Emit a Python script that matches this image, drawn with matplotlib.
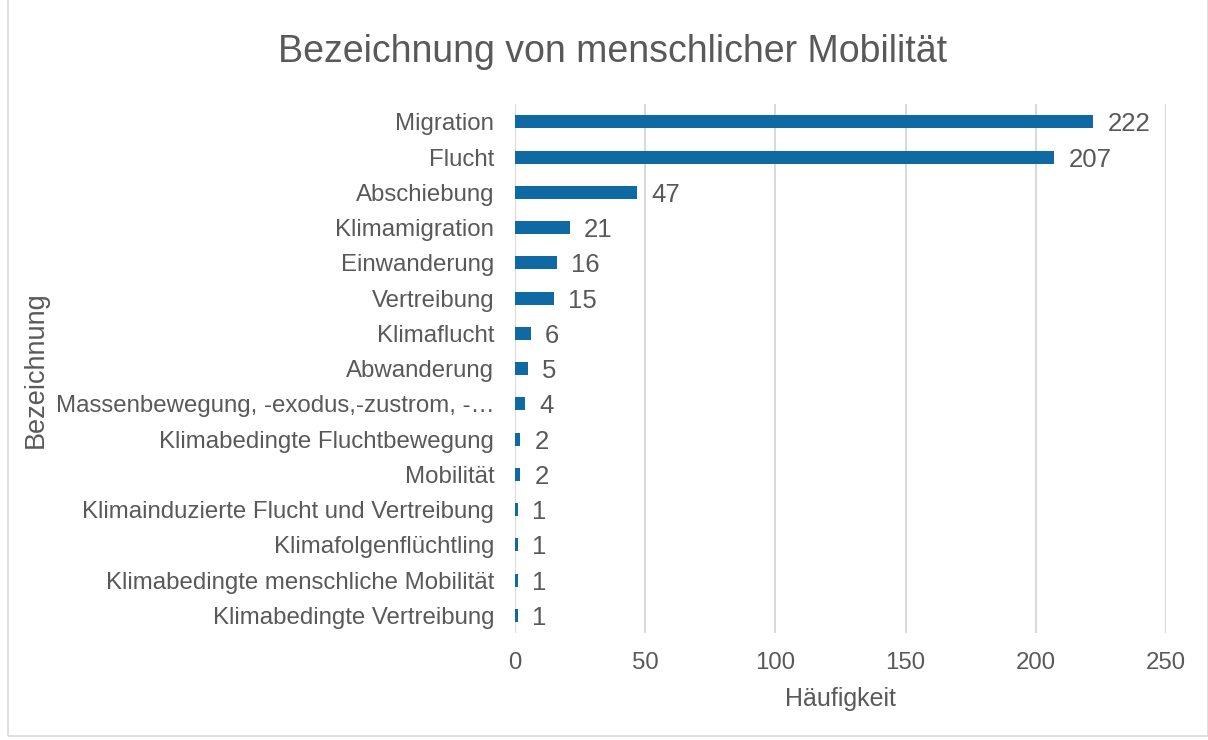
import matplotlib.pyplot as plt
from matplotlib.patches import Rectangle

# === DATA ===
categories = [
    'Migration', 'Flucht', 'Abschiebung', 'Klimamigration', 'Einwanderung',
    'Vertreibung', 'Klimaflucht', 'Abwanderung',
    'Massenbewegung, -exodus,-zustrom, -…', 'Klimabedingte Fluchtbewegung',
    'Mobilität', 'Klimainduzierte Flucht und Vertreibung',
    'Klimafolgenflüchtling', 'Klimabedingte menschliche Mobilität',
    'Klimabedingte Vertreibung',
]
counts = [222, 207, 47, 21, 16, 15, 6, 5, 4, 2, 2, 1, 1, 1, 1]
x_ticks = [0, 50, 100, 150, 200, 250]

# === STYLE ===
BLUE = '#0F6AA4'
TEXT = '#595959'
GRID = '#D9D9D9'
plt.rcParams['font.family'] = ['Liberation Sans', 'DejaVu Sans']

fig = plt.figure(figsize=(12.08, 7.4), dpi=100)
ax = fig.add_axes([0.4263, 0.1446, 0.5389, 0.7146])

y_pos = list(range(len(categories)))
ax.barh(y_pos, counts, height=0.37, color=BLUE)
ax.set_ylim(len(categories) - 0.5, -0.5)
ax.set_xlim(0, 250)

for y, v in zip(y_pos, counts):
    ax.text(v + 5.5, y, str(v), va='center_baseline', ha='left',
            fontsize=18.5, color=TEXT)

ax.set_yticks(y_pos)
ax.set_yticklabels(categories, fontsize=17.3, color=TEXT)
ax.set_xticks(x_ticks)
ax.set_xticklabels([str(t) for t in x_ticks], fontsize=17.3, color=TEXT)
ax.tick_params(axis='both', length=0)
ax.tick_params(axis='y', pad=15)
ax.tick_params(axis='x', pad=14)

for s in ax.spines.values():
    s.set_visible(False)
ax.xaxis.grid(True, color=GRID, linewidth=1.5)
ax.set_axisbelow(True)

ax.set_xlabel('Häufigkeit', fontsize=18, color=TEXT, labelpad=9)
fig.text(0.03, 0.5, 'Bezeichnung', rotation=90, ha='center', va='center',
         fontsize=19.5, color=TEXT)

fig.text(0.507, 0.93, 'Bezeichnung von menschlicher Mobilität', ha='center',
         va='center', fontsize=27, color=TEXT)

# light outer frame
fig.patches.append(Rectangle((0.007, 0.005), 0.993, 1.1, transform=fig.transFigure,
                             fill=False, edgecolor=GRID, linewidth=1.2))

fig.savefig('out.png', dpi=100, facecolor='white')
